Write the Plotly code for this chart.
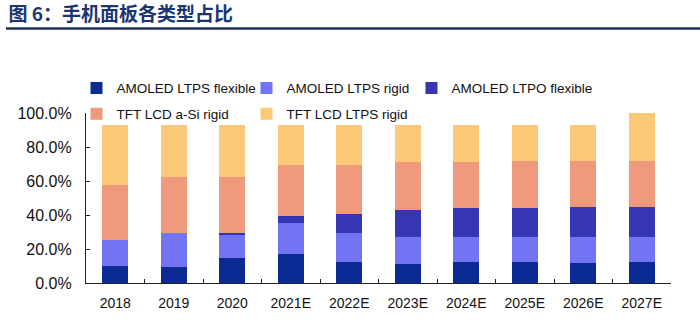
import plotly.graph_objects as go

categories = ["2018", "2019", "2020", "2021E", "2022E", "2023E", "2024E", "2025E", "2026E", "2027E"]
amoled_ltps_flexible = [10.0, 9.7, 15.0, 16.9, 12.6, 11.0, 12.2, 12.2, 12.0, 12.2]
amoled_ltps_rigid = [15.2, 19.8, 13.5, 18.6, 16.9, 16.0, 14.8, 14.8, 15.0, 14.8]
amoled_ltpo_flexible = [0.0, 0.0, 1.0, 4.2, 10.8, 16.0, 17.0, 17.0, 18.0, 18.0]
tft_lcd_asi_rigid = [32.4, 32.9, 32.9, 29.5, 28.9, 28.1, 27.1, 27.7, 26.7, 26.7]
tft_lcd_ltps_rigid = [35.4, 30.6, 30.6, 23.8, 23.8, 21.9, 21.9, 21.3, 21.3, 28.3]

series_names = ["AMOLED LTPS flexible", "AMOLED LTPS rigid", "AMOLED LTPO flexible",
                "TFT LCD a-Si rigid", "TFT LCD LTPS rigid"]
series_values = [amoled_ltps_flexible, amoled_ltps_rigid, amoled_ltpo_flexible,
                 tft_lcd_asi_rigid, tft_lcd_ltps_rigid]
series_colors = ["#0c2a94", "#7274f3", "#3636b4", "#ef9a7c", "#fbc977"]

# legend text anchor positions (pixels) for each entry
legend_text_px = [(117, 88), (287, 88), (452, 88), (117, 114), (287, 114)]

L, R, T, B, W, H = 86, 29, 113, 38, 700, 323
PW, PH = W - L - R, H - T - B

fig = go.Figure()
legend_layout = {}
for i, (name, vals, color) in enumerate(zip(series_names, series_values, series_colors)):
    key = "legend" if i == 0 else f"legend{i + 1}"
    fig.add_trace(go.Bar(
        x=categories, y=[v / 100 for v in vals], name=name,
        marker=dict(color=color, line=dict(width=0)), legend=key,
    ))
    tx, ty = legend_text_px[i]
    legend_layout[key] = dict(
        orientation="v", xanchor="left", yanchor="middle",
        x=(tx - 40.5 - L) / PW, y=(H - B - ty) / PH,
        font=dict(size=13.5, color="#111111"),
        itemwidth=30, bgcolor="rgba(0,0,0,0)",
    )

fig.update_layout(
    barmode="stack",
    bargap=0.56,
    width=W, height=H,
    margin=dict(l=L, r=R, t=T, b=B),
    paper_bgcolor="white", plot_bgcolor="white",
    font=dict(family="Liberation Sans, Arial, sans-serif", size=14, color="#111111"),
    showlegend=True,
    title=dict(
        text="<b>图 6：手机面板各类型占比</b>",
        x=0.012, xanchor="left", yref="container", y=1 - 14 / H, yanchor="middle",
        font=dict(family="Noto Sans CJK SC", size=19, color="#1a3570"),
    ),
    shapes=[dict(type="line", xref="paper", yref="paper",
                 x0=(6 - L) / PW, x1=(W + 5 - L) / PW,
                 y0=(H - B - 27.5) / PH, y1=(H - B - 27.5) / PH,
                 line=dict(color="#1f2f55", width=2.5))],
    **legend_layout,
)

fig.update_xaxes(
    type="category", showline=True, linecolor="#222222", linewidth=1.2,
    ticks="inside", tickson="boundaries", ticklen=4, tickcolor="#222222",
    showgrid=False, tickfont=dict(size=14), ticklabelstandoff=7,
)
fig.update_yaxes(
    range=[0, 1.0], tickformat=".1%", dtick=0.2,
    showline=True, linecolor="#222222", linewidth=1.2,
    ticks="inside", ticklen=4, tickcolor="#222222",
    showgrid=False, zeroline=False, tickfont=dict(size=16), ticklabelstandoff=10,
)

fig.write_html("out.html")
